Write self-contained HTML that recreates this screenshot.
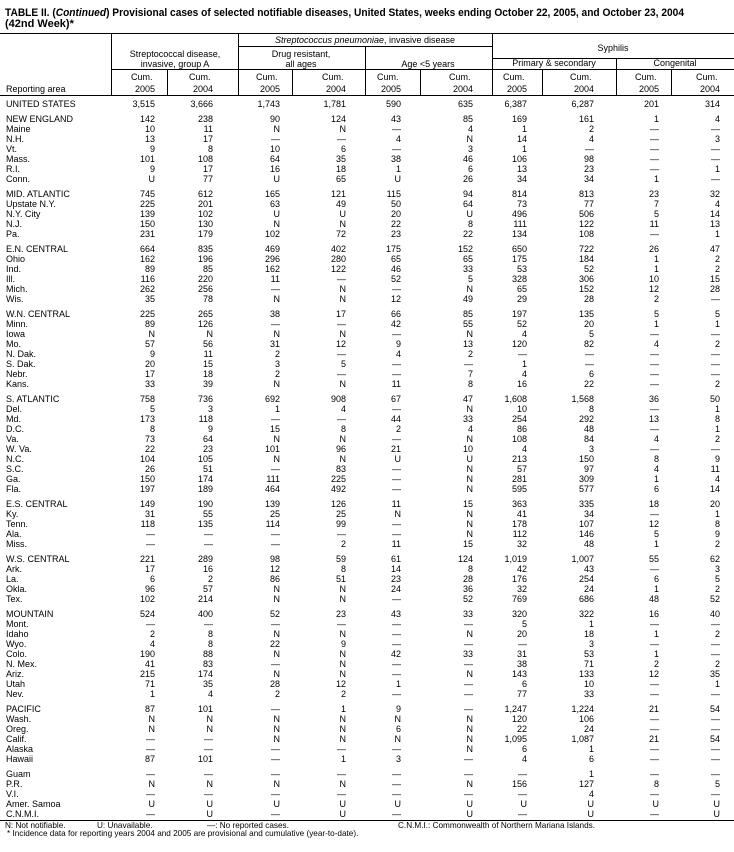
<!DOCTYPE html>
<html><head><meta charset="utf-8"><style>
html,body{margin:0;padding:0;background:#fff;}
svg{display:block;}
text{font-family:"Liberation Sans",Arial,sans-serif;font-size:9px;fill:#000;}
.e text,text.e{text-anchor:end;}
.c{text-anchor:middle;}
.t{font-size:11px;font-weight:bold;}
.f{font-size:8.2px;}
line{stroke:#000;stroke-width:1;}
</style></head><body>
<svg width="734" height="852" viewBox="0 0 734 852" xmlns="http://www.w3.org/2000/svg">
<text class="t" x="5" y="16" textLength="679" lengthAdjust="spacingAndGlyphs">TABLE II. (<tspan font-style="italic">Continued</tspan>) Provisional cases of selected notifiable diseases, United States, weeks ending October 22, 2005, and October 23, 2004</text>
<text class="t" x="5" y="27">(42nd Week)*</text>
<line x1="0" y1="33.5" x2="734" y2="33.5"/>
<line x1="238" y1="46.5" x2="492" y2="46.5"/>
<line x1="492" y1="58.5" x2="734" y2="58.5"/>
<line x1="111" y1="69.5" x2="734" y2="69.5"/>
<line x1="0" y1="95.5" x2="734" y2="95.5"/>
<line x1="111.5" y1="33" x2="111.5" y2="95"/>
<line x1="238.5" y1="33" x2="238.5" y2="95"/>
<line x1="365.5" y1="46" x2="365.5" y2="95"/>
<line x1="492.5" y1="33" x2="492.5" y2="95"/>
<line x1="616.5" y1="58" x2="616.5" y2="95"/>
<line x1="167.5" y1="69" x2="167.5" y2="95"/>
<line x1="292.5" y1="69" x2="292.5" y2="95"/>
<line x1="420.5" y1="69" x2="420.5" y2="95"/>
<line x1="542.5" y1="69" x2="542.5" y2="95"/>
<line x1="671.5" y1="69" x2="671.5" y2="95"/>
<text class="c" x="365" y="43"><tspan font-style="italic">Streptococcus pneumoniae</tspan>, invasive disease</text>
<text class="c" x="613" y="51">Syphilis</text>
<text class="c" x="175" y="57">Streptococcal disease,</text>
<text class="c" x="175" y="67">invasive, group A</text>
<text class="c" x="301" y="57">Drug resistant,</text>
<text class="c" x="301" y="67">all ages</text>
<text class="c" x="428" y="67">Age &lt;5 years</text>
<text class="c" x="554" y="66">Primary &amp; secondary</text>
<text class="c" x="675" y="66">Congenital</text>
<text x="6" y="92">Reporting area</text>
<g class="e">
<text x="152.5" y="80">Cum.</text><text x="155" y="92">2005</text>
<text x="210.5" y="80">Cum.</text><text x="213" y="92">2004</text>
<text x="277.5" y="80">Cum.</text><text x="280" y="92">2005</text>
<text x="343.5" y="80">Cum.</text><text x="346" y="92">2004</text>
<text x="398.5" y="80">Cum.</text><text x="401" y="92">2005</text>
<text x="470.5" y="80">Cum.</text><text x="473" y="92">2004</text>
<text x="524.5" y="80">Cum.</text><text x="527" y="92">2005</text>
<text x="591.5" y="80">Cum.</text><text x="594" y="92">2004</text>
<text x="656.5" y="80">Cum.</text><text x="659" y="92">2005</text>
<text x="717.5" y="80">Cum.</text><text x="720" y="92">2004</text>
</g>

<g transform="translate(0,107)"><text x="6">UNITED STATES</text><g class="e"><text x="155">3,515</text><text x="213">3,666</text><text x="280">1,743</text><text x="346">1,781</text><text x="401">590</text><text x="473">635</text><text x="527">6,387</text><text x="594">6,287</text><text x="659">201</text><text x="720">314</text></g></g>

<g transform="translate(0,122)"><text x="6">NEW ENGLAND</text><g class="e"><text x="155">142</text><text x="213">238</text><text x="280">90</text><text x="346">124</text><text x="401">43</text><text x="473">85</text><text x="527">169</text><text x="594">161</text><text x="659">1</text><text x="720">4</text></g></g>
<g transform="translate(0,132)"><text x="6">Maine</text><g class="e"><text x="155">10</text><text x="213">11</text><text x="280">N</text><text x="346">N</text><text x="401">—</text><text x="473">4</text><text x="527">1</text><text x="594">2</text><text x="659">—</text><text x="720">—</text></g></g>
<g transform="translate(0,142)"><text x="6">N.H.</text><g class="e"><text x="155">13</text><text x="213">17</text><text x="280">—</text><text x="346">—</text><text x="401">4</text><text x="473">N</text><text x="527">14</text><text x="594">4</text><text x="659">—</text><text x="720">3</text></g></g>
<g transform="translate(0,152)"><text x="6">Vt.</text><g class="e"><text x="155">9</text><text x="213">8</text><text x="280">10</text><text x="346">6</text><text x="401">—</text><text x="473">3</text><text x="527">1</text><text x="594">—</text><text x="659">—</text><text x="720">—</text></g></g>
<g transform="translate(0,162)"><text x="6">Mass.</text><g class="e"><text x="155">101</text><text x="213">108</text><text x="280">64</text><text x="346">35</text><text x="401">38</text><text x="473">46</text><text x="527">106</text><text x="594">98</text><text x="659">—</text><text x="720">—</text></g></g>
<g transform="translate(0,172)"><text x="6">R.I.</text><g class="e"><text x="155">9</text><text x="213">17</text><text x="280">16</text><text x="346">18</text><text x="401">1</text><text x="473">6</text><text x="527">13</text><text x="594">23</text><text x="659">—</text><text x="720">1</text></g></g>
<g transform="translate(0,182)"><text x="6">Conn.</text><g class="e"><text x="155">U</text><text x="213">77</text><text x="280">U</text><text x="346">65</text><text x="401">U</text><text x="473">26</text><text x="527">34</text><text x="594">34</text><text x="659">1</text><text x="720">—</text></g></g>

<g transform="translate(0,197)"><text x="6">MID. ATLANTIC</text><g class="e"><text x="155">745</text><text x="213">612</text><text x="280">165</text><text x="346">121</text><text x="401">115</text><text x="473">94</text><text x="527">814</text><text x="594">813</text><text x="659">23</text><text x="720">32</text></g></g>
<g transform="translate(0,207)"><text x="6">Upstate N.Y.</text><g class="e"><text x="155">225</text><text x="213">201</text><text x="280">63</text><text x="346">49</text><text x="401">50</text><text x="473">64</text><text x="527">73</text><text x="594">77</text><text x="659">7</text><text x="720">4</text></g></g>
<g transform="translate(0,217)"><text x="6">N.Y. City</text><g class="e"><text x="155">139</text><text x="213">102</text><text x="280">U</text><text x="346">U</text><text x="401">20</text><text x="473">U</text><text x="527">496</text><text x="594">506</text><text x="659">5</text><text x="720">14</text></g></g>
<g transform="translate(0,227)"><text x="6">N.J.</text><g class="e"><text x="155">150</text><text x="213">130</text><text x="280">N</text><text x="346">N</text><text x="401">22</text><text x="473">8</text><text x="527">111</text><text x="594">122</text><text x="659">11</text><text x="720">13</text></g></g>
<g transform="translate(0,237)"><text x="6">Pa.</text><g class="e"><text x="155">231</text><text x="213">179</text><text x="280">102</text><text x="346">72</text><text x="401">23</text><text x="473">22</text><text x="527">134</text><text x="594">108</text><text x="659">—</text><text x="720">1</text></g></g>

<g transform="translate(0,252)"><text x="6">E.N. CENTRAL</text><g class="e"><text x="155">664</text><text x="213">835</text><text x="280">469</text><text x="346">402</text><text x="401">175</text><text x="473">152</text><text x="527">650</text><text x="594">722</text><text x="659">26</text><text x="720">47</text></g></g>
<g transform="translate(0,262)"><text x="6">Ohio</text><g class="e"><text x="155">162</text><text x="213">196</text><text x="280">296</text><text x="346">280</text><text x="401">65</text><text x="473">65</text><text x="527">175</text><text x="594">184</text><text x="659">1</text><text x="720">2</text></g></g>
<g transform="translate(0,272)"><text x="6">Ind.</text><g class="e"><text x="155">89</text><text x="213">85</text><text x="280">162</text><text x="346">122</text><text x="401">46</text><text x="473">33</text><text x="527">53</text><text x="594">52</text><text x="659">1</text><text x="720">2</text></g></g>
<g transform="translate(0,282)"><text x="6">Ill.</text><g class="e"><text x="155">116</text><text x="213">220</text><text x="280">11</text><text x="346">—</text><text x="401">52</text><text x="473">5</text><text x="527">328</text><text x="594">306</text><text x="659">10</text><text x="720">15</text></g></g>
<g transform="translate(0,292)"><text x="6">Mich.</text><g class="e"><text x="155">262</text><text x="213">256</text><text x="280">—</text><text x="346">N</text><text x="401">—</text><text x="473">N</text><text x="527">65</text><text x="594">152</text><text x="659">12</text><text x="720">28</text></g></g>
<g transform="translate(0,302)"><text x="6">Wis.</text><g class="e"><text x="155">35</text><text x="213">78</text><text x="280">N</text><text x="346">N</text><text x="401">12</text><text x="473">49</text><text x="527">29</text><text x="594">28</text><text x="659">2</text><text x="720">—</text></g></g>

<g transform="translate(0,317)"><text x="6">W.N. CENTRAL</text><g class="e"><text x="155">225</text><text x="213">265</text><text x="280">38</text><text x="346">17</text><text x="401">66</text><text x="473">85</text><text x="527">197</text><text x="594">135</text><text x="659">5</text><text x="720">5</text></g></g>
<g transform="translate(0,327)"><text x="6">Minn.</text><g class="e"><text x="155">89</text><text x="213">126</text><text x="280">—</text><text x="346">—</text><text x="401">42</text><text x="473">55</text><text x="527">52</text><text x="594">20</text><text x="659">1</text><text x="720">1</text></g></g>
<g transform="translate(0,337)"><text x="6">Iowa</text><g class="e"><text x="155">N</text><text x="213">N</text><text x="280">N</text><text x="346">N</text><text x="401">—</text><text x="473">N</text><text x="527">4</text><text x="594">5</text><text x="659">—</text><text x="720">—</text></g></g>
<g transform="translate(0,347)"><text x="6">Mo.</text><g class="e"><text x="155">57</text><text x="213">56</text><text x="280">31</text><text x="346">12</text><text x="401">9</text><text x="473">13</text><text x="527">120</text><text x="594">82</text><text x="659">4</text><text x="720">2</text></g></g>
<g transform="translate(0,357)"><text x="6">N. Dak.</text><g class="e"><text x="155">9</text><text x="213">11</text><text x="280">2</text><text x="346">—</text><text x="401">4</text><text x="473">2</text><text x="527">—</text><text x="594">—</text><text x="659">—</text><text x="720">—</text></g></g>
<g transform="translate(0,367)"><text x="6">S. Dak.</text><g class="e"><text x="155">20</text><text x="213">15</text><text x="280">3</text><text x="346">5</text><text x="401">—</text><text x="473">—</text><text x="527">1</text><text x="594">—</text><text x="659">—</text><text x="720">—</text></g></g>
<g transform="translate(0,377)"><text x="6">Nebr.</text><g class="e"><text x="155">17</text><text x="213">18</text><text x="280">2</text><text x="346">—</text><text x="401">—</text><text x="473">7</text><text x="527">4</text><text x="594">6</text><text x="659">—</text><text x="720">—</text></g></g>
<g transform="translate(0,387)"><text x="6">Kans.</text><g class="e"><text x="155">33</text><text x="213">39</text><text x="280">N</text><text x="346">N</text><text x="401">11</text><text x="473">8</text><text x="527">16</text><text x="594">22</text><text x="659">—</text><text x="720">2</text></g></g>

<g transform="translate(0,402)"><text x="6">S. ATLANTIC</text><g class="e"><text x="155">758</text><text x="213">736</text><text x="280">692</text><text x="346">908</text><text x="401">67</text><text x="473">47</text><text x="527">1,608</text><text x="594">1,568</text><text x="659">36</text><text x="720">50</text></g></g>
<g transform="translate(0,412)"><text x="6">Del.</text><g class="e"><text x="155">5</text><text x="213">3</text><text x="280">1</text><text x="346">4</text><text x="401">—</text><text x="473">N</text><text x="527">10</text><text x="594">8</text><text x="659">—</text><text x="720">1</text></g></g>
<g transform="translate(0,422)"><text x="6">Md.</text><g class="e"><text x="155">173</text><text x="213">118</text><text x="280">—</text><text x="346">—</text><text x="401">44</text><text x="473">33</text><text x="527">254</text><text x="594">292</text><text x="659">13</text><text x="720">8</text></g></g>
<g transform="translate(0,432)"><text x="6">D.C.</text><g class="e"><text x="155">8</text><text x="213">9</text><text x="280">15</text><text x="346">8</text><text x="401">2</text><text x="473">4</text><text x="527">86</text><text x="594">48</text><text x="659">—</text><text x="720">1</text></g></g>
<g transform="translate(0,442)"><text x="6">Va.</text><g class="e"><text x="155">73</text><text x="213">64</text><text x="280">N</text><text x="346">N</text><text x="401">—</text><text x="473">N</text><text x="527">108</text><text x="594">84</text><text x="659">4</text><text x="720">2</text></g></g>
<g transform="translate(0,452)"><text x="6">W. Va.</text><g class="e"><text x="155">22</text><text x="213">23</text><text x="280">101</text><text x="346">96</text><text x="401">21</text><text x="473">10</text><text x="527">4</text><text x="594">3</text><text x="659">—</text><text x="720">—</text></g></g>
<g transform="translate(0,462)"><text x="6">N.C.</text><g class="e"><text x="155">104</text><text x="213">105</text><text x="280">N</text><text x="346">N</text><text x="401">U</text><text x="473">U</text><text x="527">213</text><text x="594">150</text><text x="659">8</text><text x="720">9</text></g></g>
<g transform="translate(0,472)"><text x="6">S.C.</text><g class="e"><text x="155">26</text><text x="213">51</text><text x="280">—</text><text x="346">83</text><text x="401">—</text><text x="473">N</text><text x="527">57</text><text x="594">97</text><text x="659">4</text><text x="720">11</text></g></g>
<g transform="translate(0,482)"><text x="6">Ga.</text><g class="e"><text x="155">150</text><text x="213">174</text><text x="280">111</text><text x="346">225</text><text x="401">—</text><text x="473">N</text><text x="527">281</text><text x="594">309</text><text x="659">1</text><text x="720">4</text></g></g>
<g transform="translate(0,492)"><text x="6">Fla.</text><g class="e"><text x="155">197</text><text x="213">189</text><text x="280">464</text><text x="346">492</text><text x="401">—</text><text x="473">N</text><text x="527">595</text><text x="594">577</text><text x="659">6</text><text x="720">14</text></g></g>

<g transform="translate(0,507)"><text x="6">E.S. CENTRAL</text><g class="e"><text x="155">149</text><text x="213">190</text><text x="280">139</text><text x="346">126</text><text x="401">11</text><text x="473">15</text><text x="527">363</text><text x="594">335</text><text x="659">18</text><text x="720">20</text></g></g>
<g transform="translate(0,517)"><text x="6">Ky.</text><g class="e"><text x="155">31</text><text x="213">55</text><text x="280">25</text><text x="346">25</text><text x="401">N</text><text x="473">N</text><text x="527">41</text><text x="594">34</text><text x="659">—</text><text x="720">1</text></g></g>
<g transform="translate(0,527)"><text x="6">Tenn.</text><g class="e"><text x="155">118</text><text x="213">135</text><text x="280">114</text><text x="346">99</text><text x="401">—</text><text x="473">N</text><text x="527">178</text><text x="594">107</text><text x="659">12</text><text x="720">8</text></g></g>
<g transform="translate(0,537)"><text x="6">Ala.</text><g class="e"><text x="155">—</text><text x="213">—</text><text x="280">—</text><text x="346">—</text><text x="401">—</text><text x="473">N</text><text x="527">112</text><text x="594">146</text><text x="659">5</text><text x="720">9</text></g></g>
<g transform="translate(0,547)"><text x="6">Miss.</text><g class="e"><text x="155">—</text><text x="213">—</text><text x="280">—</text><text x="346">2</text><text x="401">11</text><text x="473">15</text><text x="527">32</text><text x="594">48</text><text x="659">1</text><text x="720">2</text></g></g>

<g transform="translate(0,562)"><text x="6">W.S. CENTRAL</text><g class="e"><text x="155">221</text><text x="213">289</text><text x="280">98</text><text x="346">59</text><text x="401">61</text><text x="473">124</text><text x="527">1,019</text><text x="594">1,007</text><text x="659">55</text><text x="720">62</text></g></g>
<g transform="translate(0,572)"><text x="6">Ark.</text><g class="e"><text x="155">17</text><text x="213">16</text><text x="280">12</text><text x="346">8</text><text x="401">14</text><text x="473">8</text><text x="527">42</text><text x="594">43</text><text x="659">—</text><text x="720">3</text></g></g>
<g transform="translate(0,582)"><text x="6">La.</text><g class="e"><text x="155">6</text><text x="213">2</text><text x="280">86</text><text x="346">51</text><text x="401">23</text><text x="473">28</text><text x="527">176</text><text x="594">254</text><text x="659">6</text><text x="720">5</text></g></g>
<g transform="translate(0,592)"><text x="6">Okla.</text><g class="e"><text x="155">96</text><text x="213">57</text><text x="280">N</text><text x="346">N</text><text x="401">24</text><text x="473">36</text><text x="527">32</text><text x="594">24</text><text x="659">1</text><text x="720">2</text></g></g>
<g transform="translate(0,602)"><text x="6">Tex.</text><g class="e"><text x="155">102</text><text x="213">214</text><text x="280">N</text><text x="346">N</text><text x="401">—</text><text x="473">52</text><text x="527">769</text><text x="594">686</text><text x="659">48</text><text x="720">52</text></g></g>

<g transform="translate(0,617)"><text x="6">MOUNTAIN</text><g class="e"><text x="155">524</text><text x="213">400</text><text x="280">52</text><text x="346">23</text><text x="401">43</text><text x="473">33</text><text x="527">320</text><text x="594">322</text><text x="659">16</text><text x="720">40</text></g></g>
<g transform="translate(0,627)"><text x="6">Mont.</text><g class="e"><text x="155">—</text><text x="213">—</text><text x="280">—</text><text x="346">—</text><text x="401">—</text><text x="473">—</text><text x="527">5</text><text x="594">1</text><text x="659">—</text><text x="720">—</text></g></g>
<g transform="translate(0,637)"><text x="6">Idaho</text><g class="e"><text x="155">2</text><text x="213">8</text><text x="280">N</text><text x="346">N</text><text x="401">—</text><text x="473">N</text><text x="527">20</text><text x="594">18</text><text x="659">1</text><text x="720">2</text></g></g>
<g transform="translate(0,647)"><text x="6">Wyo.</text><g class="e"><text x="155">4</text><text x="213">8</text><text x="280">22</text><text x="346">9</text><text x="401">—</text><text x="473">—</text><text x="527">—</text><text x="594">3</text><text x="659">—</text><text x="720">—</text></g></g>
<g transform="translate(0,657)"><text x="6">Colo.</text><g class="e"><text x="155">190</text><text x="213">88</text><text x="280">N</text><text x="346">N</text><text x="401">42</text><text x="473">33</text><text x="527">31</text><text x="594">53</text><text x="659">1</text><text x="720">—</text></g></g>
<g transform="translate(0,667)"><text x="6">N. Mex.</text><g class="e"><text x="155">41</text><text x="213">83</text><text x="280">—</text><text x="346">N</text><text x="401">—</text><text x="473">—</text><text x="527">38</text><text x="594">71</text><text x="659">2</text><text x="720">2</text></g></g>
<g transform="translate(0,677)"><text x="6">Ariz.</text><g class="e"><text x="155">215</text><text x="213">174</text><text x="280">N</text><text x="346">N</text><text x="401">—</text><text x="473">N</text><text x="527">143</text><text x="594">133</text><text x="659">12</text><text x="720">35</text></g></g>
<g transform="translate(0,687)"><text x="6">Utah</text><g class="e"><text x="155">71</text><text x="213">35</text><text x="280">28</text><text x="346">12</text><text x="401">1</text><text x="473">—</text><text x="527">6</text><text x="594">10</text><text x="659">—</text><text x="720">1</text></g></g>
<g transform="translate(0,697)"><text x="6">Nev.</text><g class="e"><text x="155">1</text><text x="213">4</text><text x="280">2</text><text x="346">2</text><text x="401">—</text><text x="473">—</text><text x="527">77</text><text x="594">33</text><text x="659">—</text><text x="720">—</text></g></g>

<g transform="translate(0,712)"><text x="6">PACIFIC</text><g class="e"><text x="155">87</text><text x="213">101</text><text x="280">—</text><text x="346">1</text><text x="401">9</text><text x="473">—</text><text x="527">1,247</text><text x="594">1,224</text><text x="659">21</text><text x="720">54</text></g></g>
<g transform="translate(0,722)"><text x="6">Wash.</text><g class="e"><text x="155">N</text><text x="213">N</text><text x="280">N</text><text x="346">N</text><text x="401">N</text><text x="473">N</text><text x="527">120</text><text x="594">106</text><text x="659">—</text><text x="720">—</text></g></g>
<g transform="translate(0,732)"><text x="6">Oreg.</text><g class="e"><text x="155">N</text><text x="213">N</text><text x="280">N</text><text x="346">N</text><text x="401">6</text><text x="473">N</text><text x="527">22</text><text x="594">24</text><text x="659">—</text><text x="720">—</text></g></g>
<g transform="translate(0,742)"><text x="6">Calif.</text><g class="e"><text x="155">—</text><text x="213">—</text><text x="280">N</text><text x="346">N</text><text x="401">N</text><text x="473">N</text><text x="527">1,095</text><text x="594">1,087</text><text x="659">21</text><text x="720">54</text></g></g>
<g transform="translate(0,752)"><text x="6">Alaska</text><g class="e"><text x="155">—</text><text x="213">—</text><text x="280">—</text><text x="346">—</text><text x="401">—</text><text x="473">N</text><text x="527">6</text><text x="594">1</text><text x="659">—</text><text x="720">—</text></g></g>
<g transform="translate(0,762)"><text x="6">Hawaii</text><g class="e"><text x="155">87</text><text x="213">101</text><text x="280">—</text><text x="346">1</text><text x="401">3</text><text x="473">—</text><text x="527">4</text><text x="594">6</text><text x="659">—</text><text x="720">—</text></g></g>

<g transform="translate(0,777)"><text x="6">Guam</text><g class="e"><text x="155">—</text><text x="213">—</text><text x="280">—</text><text x="346">—</text><text x="401">—</text><text x="473">—</text><text x="527">—</text><text x="594">1</text><text x="659">—</text><text x="720">—</text></g></g>
<g transform="translate(0,787)"><text x="6">P.R.</text><g class="e"><text x="155">N</text><text x="213">N</text><text x="280">N</text><text x="346">N</text><text x="401">—</text><text x="473">N</text><text x="527">156</text><text x="594">127</text><text x="659">8</text><text x="720">5</text></g></g>
<g transform="translate(0,797)"><text x="6">V.I.</text><g class="e"><text x="155">—</text><text x="213">—</text><text x="280">—</text><text x="346">—</text><text x="401">—</text><text x="473">—</text><text x="527">—</text><text x="594">4</text><text x="659">—</text><text x="720">—</text></g></g>
<g transform="translate(0,807)"><text x="6">Amer. Samoa</text><g class="e"><text x="155">U</text><text x="213">U</text><text x="280">U</text><text x="346">U</text><text x="401">U</text><text x="473">U</text><text x="527">U</text><text x="594">U</text><text x="659">U</text><text x="720">U</text></g></g>
<g transform="translate(0,817)"><text x="6">C.N.M.I.</text><g class="e"><text x="155">—</text><text x="213">U</text><text x="280">—</text><text x="346">U</text><text x="401">—</text><text x="473">U</text><text x="527">—</text><text x="594">U</text><text x="659">—</text><text x="720">U</text></g></g>

<line x1="0" y1="820.5" x2="734" y2="820.5"/>
<text class="f" x="5" y="828">N: Not notifiable.</text>
<text class="f" x="97" y="828">U: Unavailable.</text>
<text class="f" x="207" y="828">—: No reported cases.</text>
<text class="f" x="398" y="828">C.N.M.I.: Commonwealth of Northern Mariana Islands.</text>
<text class="f" x="7" y="836">* Incidence data for reporting years 2004 and 2005 are provisional and cumulative (year-to-date).</text>
</svg>
</body></html>
